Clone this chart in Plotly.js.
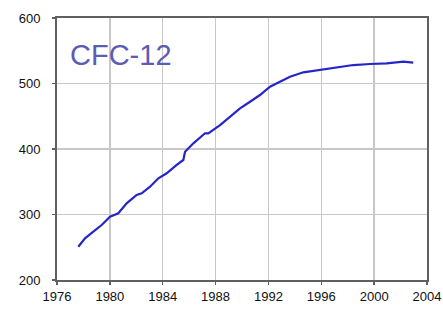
<!DOCTYPE html>
<html>
<head>
<meta charset="utf-8">
<script src="https://cdn.plot.ly/plotly-3.0.1.min.js"></script>
<style>html,body{margin:0;padding:0;background:#fff;}#chart{width:443px;height:309px;}</style>
</head>
<body>
<div id="chart"></div>
<script>
const years = [1977.61, 1978.12, 1978.75, 1979.38, 1980.01, 1980.64, 1981.27, 1982.03, 1982.41, 1983.04, 1983.67, 1984.30, 1985.06, 1985.56, 1985.69, 1986.32, 1987.20, 1987.45, 1988.34, 1988.96, 1989.85, 1990.61, 1991.36, 1992.12, 1992.88, 1993.63, 1994.64, 1995.90, 1997.17, 1998.42, 1999.69, 2000.95, 2002.21, 2002.96];
const cfc12 = [250.8, 263.7, 273.7, 284.0, 296.6, 301.8, 317.1, 329.8, 332.4, 342.4, 355.3, 362.9, 375.6, 383.2, 395.9, 408.7, 424.0, 424.0, 436.6, 446.9, 462.1, 472.2, 482.4, 495.1, 502.7, 510.4, 517.1, 520.6, 524.7, 528.2, 529.8, 530.8, 533.3, 531.8];
const xTicks = [1976, 1980, 1984, 1988, 1992, 1996, 2000, 2004];
const yTicks = [200, 300, 400, 500, 600];
const titleText = "CFC-12";

const trace = {
  x: years, y: cfc12, type: 'scatter', mode: 'lines',
  line: {color: '#2626c8', width: 2.2},
  hoverinfo: 'skip'
};
const layout = {
  width: 443, height: 309,
  margin: {l: 57, r: 16, t: 18, b: 29},
  paper_bgcolor: '#ffffff', plot_bgcolor: '#ffffff',
  showlegend: false,
  font: {family: 'Liberation Sans, Arial, sans-serif', size: 13, color: '#111'},
  xaxis: {
    range: [1976, 2004], tickvals: xTicks, ticktext: xTicks.map(String),
    showgrid: true, gridcolor: '#c8c8c8', gridwidth: 1.5,
    showline: true, linecolor: '#606060', linewidth: 2, mirror: true,
    ticks: 'outside', ticklen: 3, tickcolor: '#606060', tickwidth: 1.5,
    zeroline: false, tickfont: {size: 13, color: '#111'}
  },
  yaxis: {
    range: [200, 600], tickvals: yTicks, ticktext: yTicks.map(String),
    showgrid: true, gridcolor: '#c8c8c8', gridwidth: 1.5,
    showline: true, linecolor: '#606060', linewidth: 2, mirror: true,
    ticks: 'outside', ticklen: 3, tickcolor: '#606060', tickwidth: 1.5,
    ticklabelstandoff: 9,
    zeroline: false, tickfont: {size: 13, color: '#111'}
  },
  annotations: [{
    text: titleText, xref: 'paper', yref: 'paper', x: 0.03, y: 0.86,
    xanchor: 'left', yanchor: 'middle', showarrow: false,
    font: {family: 'Liberation Sans, Arial, sans-serif', size: 29, color: '#5c5cb4'}
  }]
};
Plotly.newPlot('chart', [trace], layout, {staticPlot: true, displayModeBar: false});
</script>
</body>
</html>
